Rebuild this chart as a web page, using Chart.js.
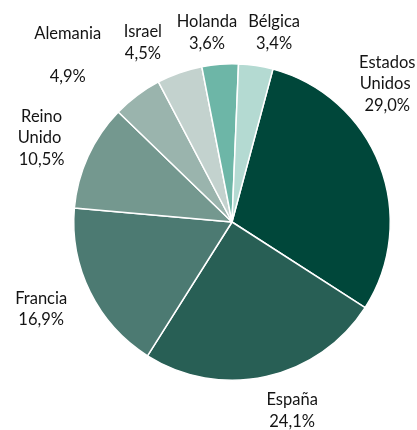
<!DOCTYPE html>
<html>
<head>
<meta charset="utf-8">
<script src="https://cdn.jsdelivr.net/npm/chart.js@4"></script>
<style>
  html, body { margin: 0; padding: 0; background: #ffffff; }
  #wrap { width: 417px; height: 430px; position: relative; }
</style>
</head>
<body>
<div id="wrap"><canvas id="c" width="417" height="430"></canvas></div>
<script>
// ---- data ----
const categories = ["Estados Unidos", "España", "Francia", "Reino Unido", "Alemania", "Israel", "Holanda", "Bélgica"];
const shares = [29.0, 24.1, 16.9, 10.5, 4.9, 4.5, 3.6, 3.4];
const labelLines = [["Estados", "Unidos "], ["España"], ["Francia"], ["Reino", "Unido "], ["Alemania", ""], ["Israel"], ["Holanda"], ["Bélgica"]];

// ---- styles / layout ----
const sliceColors = ["#00473a", "#285f55", "#4c7a72", "#74988f", "#9ab4ad", "#c3d2ce", "#6db6a7", "#b4dad2"];
// label anchor offsets, in multiples of the outer radius from the pie centre
const labelAnchors = [
  [0.981, -0.873], [0.380, 1.193], [-1.206, 0.551], [-1.203, -0.532],
  [-1.038, -1.057], [-0.563, -1.133], [-0.158, -1.196], [0.266, -1.196]
];
const lineHeight = 21.5;

function fmt(v) { return v.toFixed(1).replace('.', ',') + '%'; }

const labelPlugin = {
  id: 'sliceLabels',
  afterDatasetsDraw(chart) {
    const ctx = chart.ctx;
    const meta = chart.getDatasetMeta(0);
    ctx.save();
    ctx.font = '16.5px Lato, "Liberation Sans", sans-serif';
    ctx.fillStyle = '#141414';
    ctx.textAlign = 'center';
    ctx.textBaseline = 'middle';
    meta.data.forEach((arc, i) => {
      const r = arc.outerRadius;
      const cx = arc.x + labelAnchors[i][0] * r;
      const cy = arc.y + labelAnchors[i][1] * r;
      const lines = labelLines[i].concat([fmt(shares[i])]);
      const top = cy - (lines.length - 1) * lineHeight / 2;
      lines.forEach((t, k) => { if (t) ctx.fillText(t, cx, top + k * lineHeight); });
    });
    ctx.restore();
  }
};

new Chart(document.getElementById('c'), {
  type: 'pie',
  data: {
    labels: categories,
    datasets: [{
      data: shares,
      backgroundColor: sliceColors,
      borderColor: '#ffffff',
      borderWidth: 1.5
    }]
  },
  options: {
    responsive: false,
    animation: false,
    rotation: 15,
    layout: { padding: { left: 73, right: 26, top: 63, bottom: 49 } },
    plugins: { legend: { display: false }, tooltip: { enabled: false } }
  },
  plugins: [labelPlugin]
});
</script>
</body>
</html>
